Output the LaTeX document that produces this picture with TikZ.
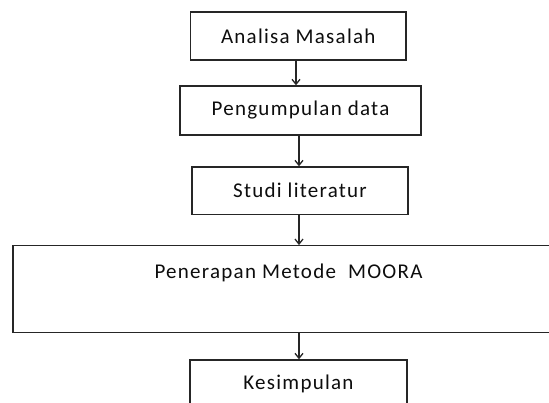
\documentclass[tikz,border=0pt]{standalone}
\usepackage{fontspec}
\setmainfont{Carlito}[LetterSpace=6]
\usetikzlibrary{arrows.meta}
\begin{document}
\begin{tikzpicture}[x=1pt,y=-1pt,
  box/.style={draw=black!85, line width=1.3pt, inner sep=0pt, font=\fontsize{21}{23}\selectfont, text=black!95},
  lbl/.style={inner sep=0pt, font=\fontsize{21}{23}\selectfont, text=black!95},
  arr/.style={draw=black!85, line width=1.2pt, -{Straight Barb[length=5pt,width=8pt,line width=1.3pt]}}]
\useasboundingbox (0,0) rectangle (549,403);
\clip (0,0) rectangle (549,403);
\node[box, minimum width=215.5pt, minimum height=48pt] (b1) at (298.25,36) {Analisa Masalah};
\node[box, minimum width=241pt, minimum height=49pt] (b2) at (300.5,110.5) {Pengumpulan data};
\node[box, minimum width=216pt, minimum height=47.5pt] (b3) at (300,190.75) {Studi literatur};
\node[box, minimum width=551pt, minimum height=86.5pt] (b4) at (288.5,289) {};
\node[lbl] (b4t) at (288.5,273) {Penerapan Metode~~MOORA};
\node[box, minimum width=217pt, minimum height=48pt] (b5) at (298.5,384) {Kesimpulan};
\draw[arr] ([xshift=-2.25pt]b1.south) -- ([xshift=-2.25pt]b1.south |- b2.north);
\draw[arr] ([xshift=-1.5pt]b2.south) -- ([xshift=-1.5pt]b2.south |- b3.north);
\draw[arr] ([xshift=-1pt]b3.south) -- ([xshift=-1pt]b3.south |- b4.north);
\draw[arr] ([xshift=-1pt]b3.south |- b4.south) -- ([xshift=-1pt]b3.south |- b5.north);
\end{tikzpicture}
\end{document}
